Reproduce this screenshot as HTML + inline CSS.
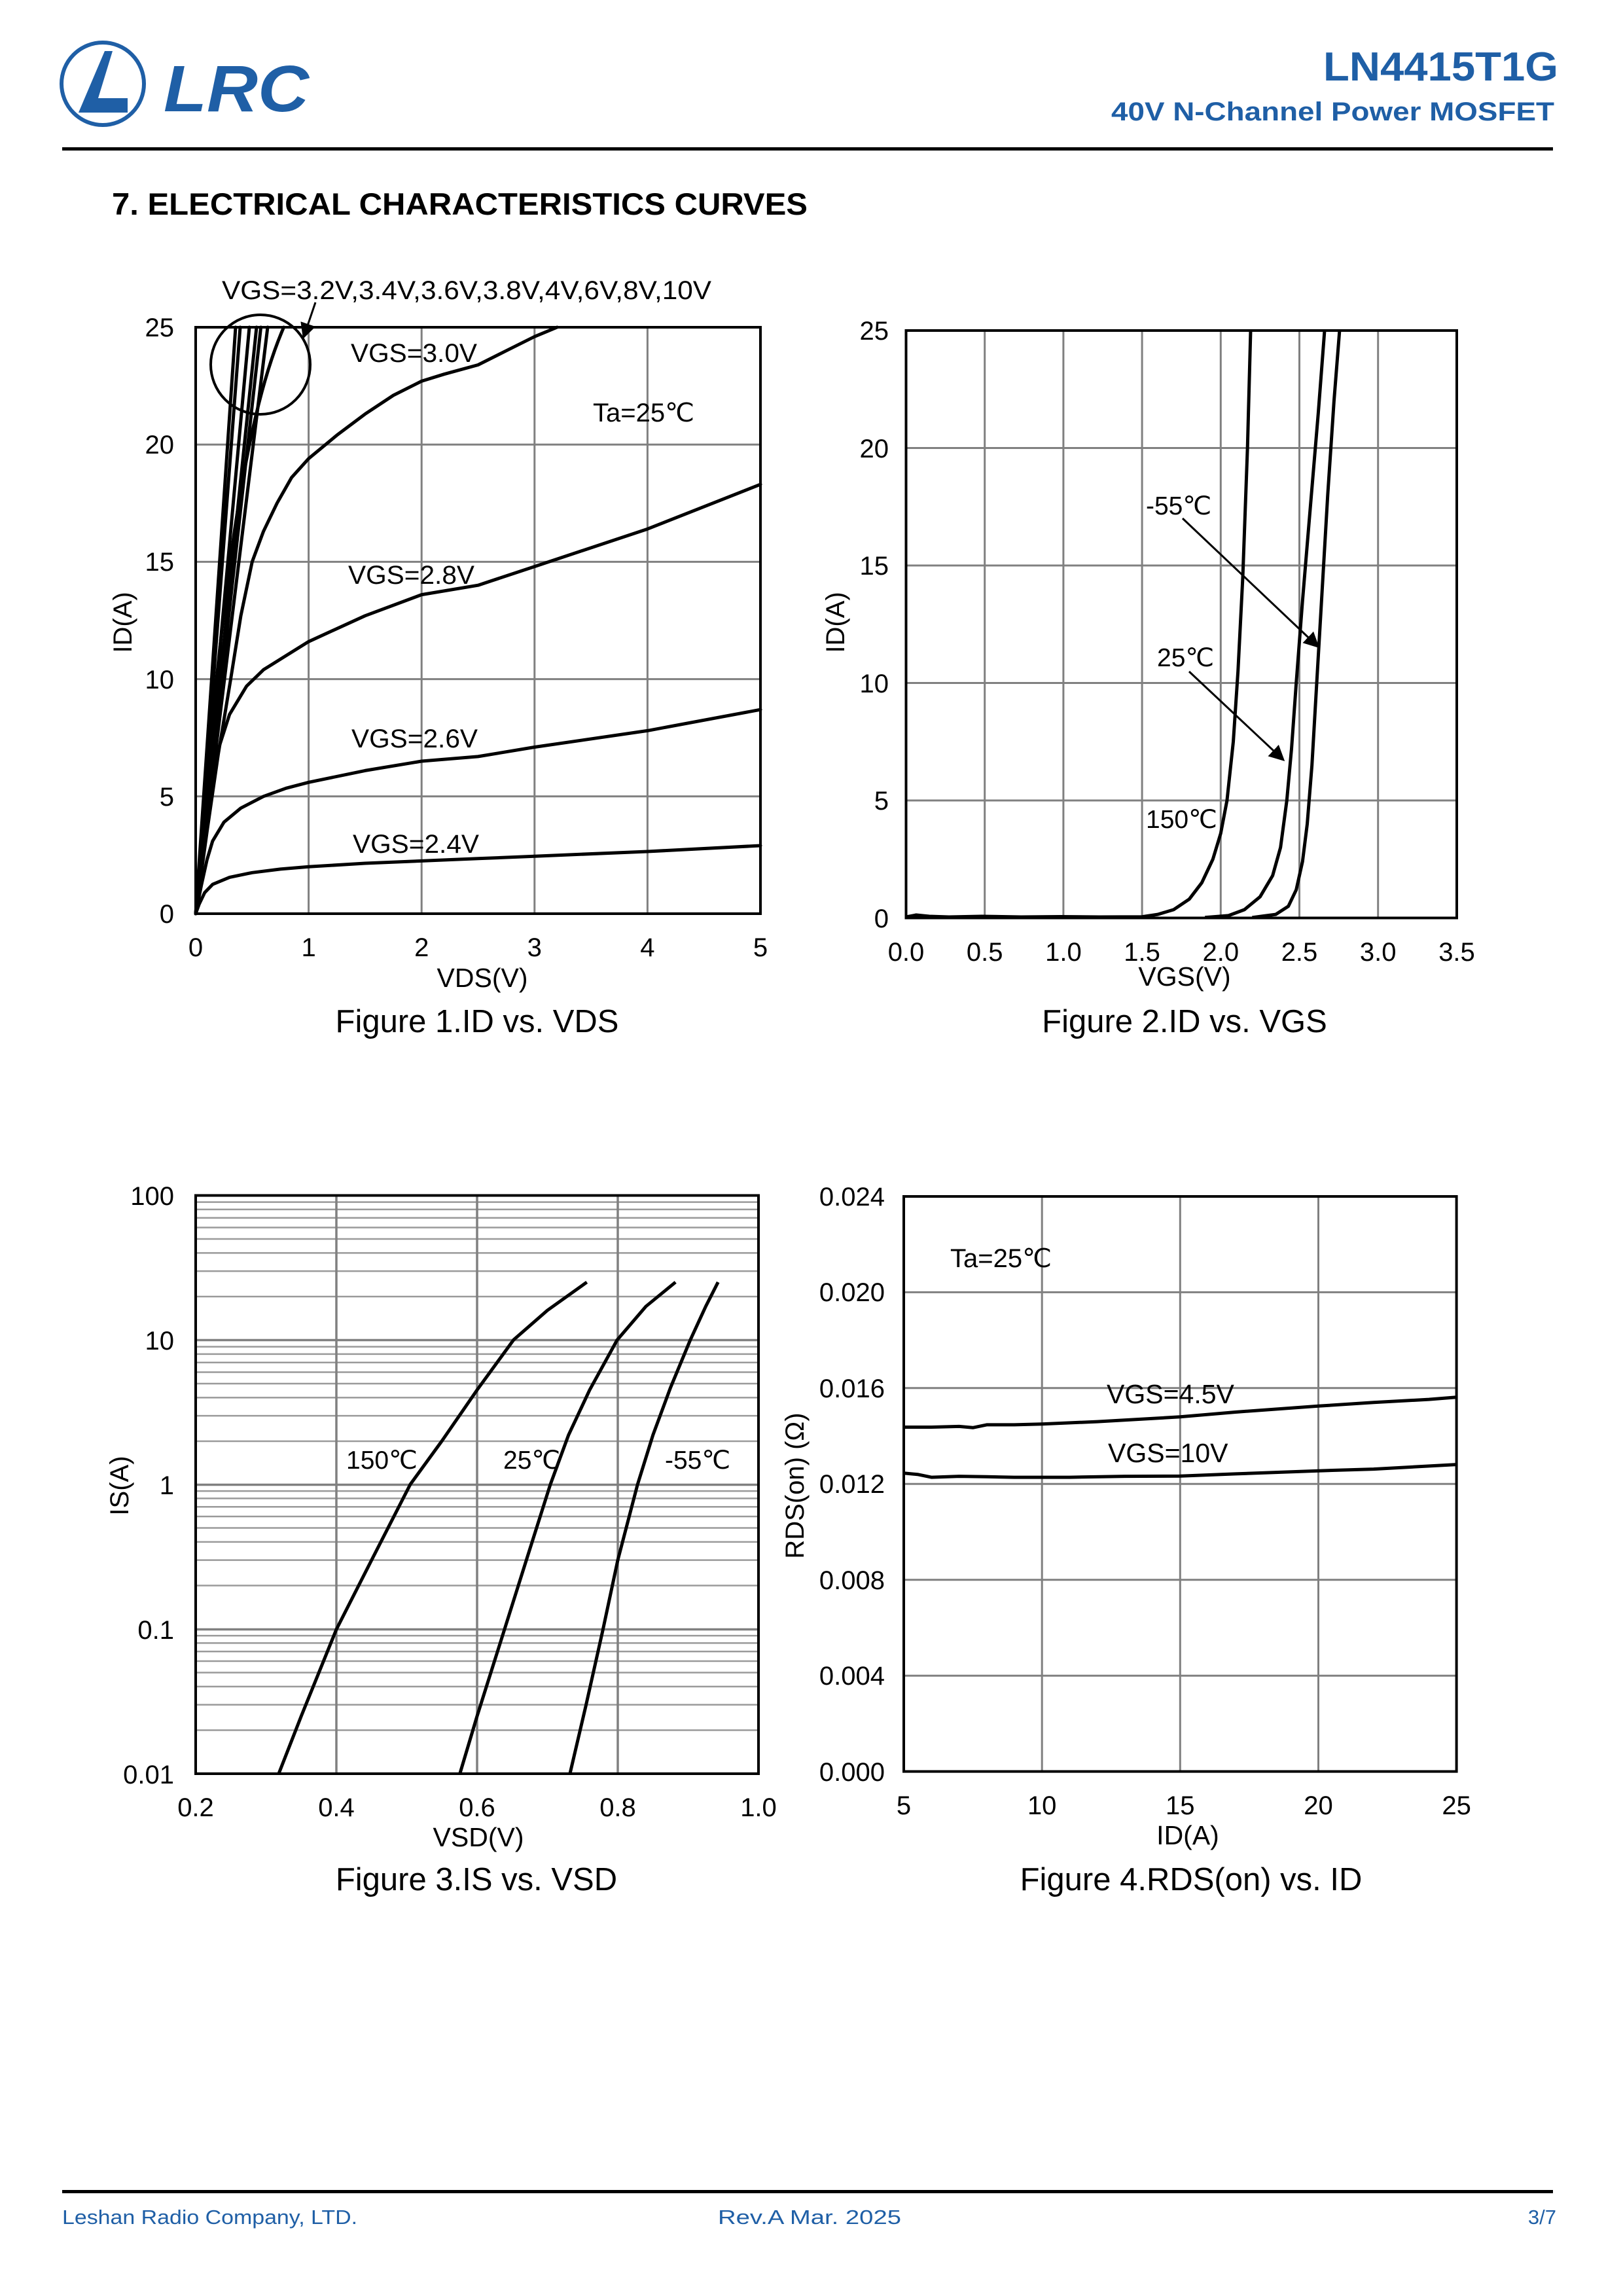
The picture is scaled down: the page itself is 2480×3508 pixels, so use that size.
<!DOCTYPE html>
<html><head><meta charset="utf-8"><style>
html,body{margin:0;padding:0;background:#fff;}
svg{display:block;}
text{font-family:"Liberation Sans",Arial,sans-serif;}
</style></head><body>
<svg xmlns="http://www.w3.org/2000/svg" width="2480" height="3508" viewBox="0 0 2480 3508">
<defs>
<marker id="ah" markerWidth="8" markerHeight="8" refX="7" refY="4" orient="auto" markerUnits="strokeWidth">
<path d="M0,0 L8,4 L0,8 z" fill="#000"/>
</marker>
<g id="minor" stroke="#9a9a9a" stroke-width="2.5">
<line x1="299" x2="1159" y1="-66.5" y2="-66.5"/><line x1="299" x2="1159" y1="-105.4" y2="-105.4"/>
<line x1="299" x2="1159" y1="-133.1" y2="-133.1"/><line x1="299" x2="1159" y1="-154.5" y2="-154.5"/>
<line x1="299" x2="1159" y1="-172" y2="-172"/><line x1="299" x2="1159" y1="-186.8" y2="-186.8"/>
<line x1="299" x2="1159" y1="-199.6" y2="-199.6"/><line x1="299" x2="1159" y1="-210.9" y2="-210.9"/>
</g>
</defs>
<rect width="2480" height="3508" fill="#fff"/>

<!-- Header -->
<circle cx="157" cy="128" r="63" fill="none" stroke="#1f5fa6" stroke-width="6"/>
<path d="M120,172 L160,78 L172,78 L150,150 L195,150 L195,172 Z" fill="#1f5fa6"/>
<path d="M150,150 L175,110 L195,150 Z" fill="#fff"/>
<text x="250" y="170" font-size="100" font-weight="bold" font-style="italic" fill="#1f5fa6" textLength="222" lengthAdjust="spacingAndGlyphs">LRC</text>
<text x="2381" y="123" font-size="62" font-weight="bold" fill="#1f5fa6" text-anchor="end" textLength="359" lengthAdjust="spacingAndGlyphs">LN4415T1G</text>
<text x="2375" y="184" font-size="40" font-weight="bold" fill="#1f5fa6" text-anchor="end" textLength="677" lengthAdjust="spacingAndGlyphs">40V N-Channel Power MOSFET</text>
<rect x="95" y="225" width="2278" height="5" fill="#000"/>
<text x="171" y="328" font-size="47" font-weight="bold" fill="#000" textLength="1063" lengthAdjust="spacingAndGlyphs">7. ELECTRICAL CHARACTERISTICS CURVES</text>

<!-- Chart 1 -->
<g stroke="#808080" stroke-width="3">
<line x1="471.6" x2="471.6" y1="500" y2="1396"/><line x1="644.2" x2="644.2" y1="500" y2="1396"/>
<line x1="816.8" x2="816.8" y1="500" y2="1396"/><line x1="989.4" x2="989.4" y1="500" y2="1396"/>
<line x1="299" x2="1162" y1="679.2" y2="679.2"/><line x1="299" x2="1162" y1="858.4" y2="858.4"/>
<line x1="299" x2="1162" y1="1037.6" y2="1037.6"/><line x1="299" x2="1162" y1="1216.8" y2="1216.8"/>
</g>
<rect x="299" y="500" width="863" height="896" fill="none" stroke="#000" stroke-width="4"/>
<g fill="none" stroke="#000" stroke-width="5" stroke-linejoin="round" stroke-linecap="round">
<path d="M299,1396 L360,500 M299,1396 L367,500 M299,1396 L381,500 M299,1396 L392,500 M299,1396 L398.6,500 M299,1396 L409,500"/>
<path d="M299,1396 Q330,1000 360,800 Q390,600 433.6,500"/>
<polyline points="299,1396 304.2,1381.7 312.8,1363.7 324.9,1351.2 350.8,1340.4 385.3,1333.3 428.5,1327.9 471.6,1324.3 557.9,1319 644.2,1315.4 730.5,1311.8 816.8,1308.2 989.4,1301 1162,1292"/>
<polyline points="299,1396 307.6,1353 316.3,1313.6 324.9,1284.9 342.2,1256.2 368,1234.7 402.6,1216.8 437.1,1204.3 471.6,1195.3 557.9,1177.4 644.2,1163 730.5,1155.9 816.8,1141.5 989.4,1116.4 1162,1084.2"/>
<polyline points="299,1396 307.6,1324.3 316.3,1252.6 324.9,1191.7 333.5,1145.1 350.8,1091.4 376.7,1048.4 402.6,1023.3 437.1,1001.8 471.6,980.3 557.9,940.8 644.2,908.6 730.5,894.2 816.8,865.6 989.4,808.2 1162,740.1"/>
<polyline points="299,1396 316.3,1270.6 333.5,1152.3 352.5,1037.6 368,940.8 385.3,858.4 402.6,811.8 423.3,768.8 445.7,729.4 471.6,700.7 514.8,664.9 557.9,632.6 601.1,604 644.2,582.4 678.7,571.7 730.5,557.5 773.7,535.8 816.8,514.3 851.3,500"/>
</g>
<circle cx="398" cy="557" r="76" fill="none" stroke="#000" stroke-width="4"/>
<line x1="482" y1="462" x2="464" y2="515" stroke="#000" stroke-width="3" marker-end="url(#ah)"/>
<g font-size="40" fill="#000">
<text x="339" y="457" textLength="748" lengthAdjust="spacingAndGlyphs">VGS=3.2V,3.4V,3.6V,3.8V,4V,6V,8V,10V</text>
<text x="536" y="553" textLength="193" lengthAdjust="spacingAndGlyphs">VGS=3.0V</text>
<text x="906" y="644">Ta=25℃</text>
<text x="532" y="892" textLength="193" lengthAdjust="spacingAndGlyphs">VGS=2.8V</text>
<text x="537" y="1142" textLength="193" lengthAdjust="spacingAndGlyphs">VGS=2.6V</text>
<text x="539" y="1303" textLength="193" lengthAdjust="spacingAndGlyphs">VGS=2.4V</text>
</g>
<g font-size="40" fill="#000" text-anchor="end">
<text x="266" y="514">25</text><text x="266" y="693">20</text><text x="266" y="872">15</text>
<text x="266" y="1052">10</text><text x="266" y="1231">5</text><text x="266" y="1410">0</text>
</g>
<g font-size="40" fill="#000" text-anchor="middle">
<text x="299" y="1461">0</text><text x="471.6" y="1461">1</text><text x="644.2" y="1461">2</text>
<text x="816.8" y="1461">3</text><text x="989.4" y="1461">4</text><text x="1162" y="1461">5</text>
<text x="737" y="1508" font-size="41">VDS(V)</text>
<text x="729" y="1577" font-size="49">Figure 1.ID vs. VDS</text>
<text transform="translate(201,951) rotate(-90)">ID(A)</text>
</g>

<!-- Chart 2 -->
<g stroke="#808080" stroke-width="3">
<line x1="1504.7" x2="1504.7" y1="505" y2="1402.5"/><line x1="1624.9" x2="1624.9" y1="505" y2="1402.5"/>
<line x1="1745.1" x2="1745.1" y1="505" y2="1402.5"/><line x1="1865.3" x2="1865.3" y1="505" y2="1402.5"/>
<line x1="1985.5" x2="1985.5" y1="505" y2="1402.5"/><line x1="2105.7" x2="2105.7" y1="505" y2="1402.5"/>
<line x1="1384.5" x2="2226" y1="684.5" y2="684.5"/><line x1="1384.5" x2="2226" y1="864" y2="864"/>
<line x1="1384.5" x2="2226" y1="1043.5" y2="1043.5"/><line x1="1384.5" x2="2226" y1="1223" y2="1223"/>
</g>
<rect x="1384.5" y="505" width="841.5" height="897.5" fill="none" stroke="#000" stroke-width="4"/>
<g fill="none" stroke="#000" stroke-width="5" stroke-linejoin="round">
<polyline points="1384.5,1401 1400,1398 1420,1400 1450,1401 1500,1400 1560,1401 1620,1400.5 1680,1401 1745.1,1400.7 1769.1,1397.1 1793.2,1389.9 1817.2,1373.8 1836.4,1348.7 1853.3,1312.8 1865.3,1273.3 1874.9,1223 1884.5,1133.3 1891.7,1025.5 1899,882 1906.2,684.5 1911,505"/>
<polyline points="1841.3,1401.8 1877.3,1398.9 1901.4,1389.9 1925.4,1370.2 1944.6,1337.9 1956.7,1294.8 1966.3,1223 1973.5,1144 1980.7,1043.5 1990.3,917.9 2002.3,774.3 2014.4,630.7 2024,505"/>
<polyline points="1913.4,1401.8 1949.4,1397.1 1968.7,1384.6 1980.7,1359.4 1990.3,1316.3 1997.5,1258.9 2004.7,1169.2 2012,1043.5 2020.4,899.9 2028.8,756.3 2038.4,612.7 2046.9,505"/>
</g>
<line x1="1807" y1="792" x2="2014" y2="988" stroke="#000" stroke-width="3" marker-end="url(#ah)"/>
<line x1="1817" y1="1026" x2="1961" y2="1161" stroke="#000" stroke-width="3" marker-end="url(#ah)"/>
<g font-size="39" fill="#000">
<text x="1751" y="786">-55℃</text>
<text x="1768" y="1018">25℃</text>
<text x="1751" y="1265">150℃</text>
</g>
<g font-size="40" fill="#000" text-anchor="end">
<text x="1358" y="519">25</text><text x="1358" y="699">20</text><text x="1358" y="878">15</text>
<text x="1358" y="1058">10</text><text x="1358" y="1237">5</text><text x="1358" y="1417">0</text>
</g>
<g font-size="40" fill="#000" text-anchor="middle">
<text x="1384.5" y="1468">0.0</text><text x="1504.7" y="1468">0.5</text><text x="1624.9" y="1468">1.0</text>
<text x="1745.1" y="1468">1.5</text><text x="1865.3" y="1468">2.0</text><text x="1985.5" y="1468">2.5</text>
<text x="2105.7" y="1468">3.0</text><text x="2226" y="1468">3.5</text>
<text x="1810" y="1506" font-size="41">VGS(V)</text>
<text x="1810" y="1577" font-size="49">Figure 2.ID vs. VGS</text>
<text transform="translate(1290,951) rotate(-90)">ID(A)</text>
</g>

<!-- Chart 3 -->
<use href="#minor" y="2710"/><use href="#minor" y="2489"/><use href="#minor" y="2268.5"/><use href="#minor" y="2047.5"/>
<g stroke="#808080" stroke-width="3.5">
<line x1="514" x2="514" y1="1826.5" y2="2710"/><line x1="729" x2="729" y1="1826.5" y2="2710"/>
<line x1="944" x2="944" y1="1826.5" y2="2710"/>
<line x1="299" x2="1159" y1="2047.5" y2="2047.5"/><line x1="299" x2="1159" y1="2268.5" y2="2268.5"/>
<line x1="299" x2="1159" y1="2489.5" y2="2489.5"/>
</g>
<rect x="299" y="1826.5" width="860" height="883.5" fill="none" stroke="#000" stroke-width="4"/>
<g fill="none" stroke="#000" stroke-width="5" stroke-linejoin="round">
<path d="M425.9,2710 L460.3,2622 L514,2489.5 L567.8,2383.6 L626.9,2268 L675.3,2201.5 L729,2123.7 L784.9,2047 L836.5,2002 L896.7,1959"/>
<path d="M702.7,2710 L729,2622 L770.9,2489.5 L804.3,2383.6 L840.8,2268.5 L868.8,2192.4 L901,2123.7 L942.9,2047.5 L987,1996 L1032.2,1959"/>
<path d="M870.9,2710 L895.6,2604.6 L921.4,2489.5 L944,2383.6 L974.1,2268.5 L997.8,2192.4 L1024.6,2120 L1054.7,2047.5 L1078.4,1996 L1097.2,1959"/>
</g>
<g font-size="39" fill="#000">
<text x="529" y="2244">150℃</text>
<text x="769" y="2244">25℃</text>
<text x="1016" y="2244">-55℃</text>
</g>
<g font-size="40" fill="#000" text-anchor="end">
<text x="266" y="1841">100</text><text x="266" y="2062">10</text><text x="266" y="2283">1</text>
<text x="266" y="2504">0.1</text><text x="266" y="2725">0.01</text>
</g>
<g font-size="40" fill="#000" text-anchor="middle">
<text x="299" y="2775">0.2</text><text x="514" y="2775">0.4</text><text x="729" y="2775">0.6</text>
<text x="944" y="2775">0.8</text><text x="1159" y="2775">1.0</text>
<text x="731" y="2821" font-size="41">VSD(V)</text>
<text x="728" y="2888" font-size="49">Figure 3.IS vs. VSD</text>
<text transform="translate(196,2270) rotate(-90)">IS(A)</text>
</g>

<!-- Chart 4 -->
<g stroke="#808080" stroke-width="3">
<line x1="1592.2" x2="1592.2" y1="1828" y2="2706.6"/><line x1="1803.3" x2="1803.3" y1="1828" y2="2706.6"/>
<line x1="2014.5" x2="2014.5" y1="1828" y2="2706.6"/>
<line x1="1381" x2="2225.6" y1="1974.4" y2="1974.4"/><line x1="1381" x2="2225.6" y1="2120.8" y2="2120.8"/>
<line x1="1381" x2="2225.6" y1="2267.3" y2="2267.3"/><line x1="1381" x2="2225.6" y1="2413.7" y2="2413.7"/>
<line x1="1381" x2="2225.6" y1="2560.2" y2="2560.2"/>
</g>
<rect x="1381" y="1828" width="844.6" height="878.6" fill="none" stroke="#000" stroke-width="4"/>
<g fill="none" stroke="#000" stroke-width="5" stroke-linejoin="round">
<path d="M1381,2180.5 L1423.2,2180.5 L1465.5,2179.4 L1486.6,2181.3 L1507.7,2176.9 L1549.9,2176.9 L1592.2,2175.8 L1676.6,2172.1 L1803.3,2164.8 L1887.8,2157.5 L2014.5,2148.3 L2098.9,2142.8 L2183.4,2138.1 L2225.6,2134.8"/>
<path d="M1381,2250.8 L1402.1,2252.7 L1423.2,2257.1 L1465.5,2255.6 L1507.7,2256.3 L1549.9,2257.1 L1634.4,2257.1 L1718.8,2255.6 L1803.3,2255.2 L1887.8,2251.9 L2014.5,2247.2 L2098.9,2244.6 L2225.6,2237.6"/>
</g>
<g font-size="40" fill="#000">
<text x="1452" y="1936">Ta=25℃</text>
<text x="1691" y="2144" font-size="41">VGS=4.5V</text>
<text x="1693" y="2234" font-size="41">VGS=10V</text>
</g>
<g font-size="40" fill="#000" text-anchor="end">
<text x="1352" y="1842">0.024</text><text x="1352" y="1988">0.020</text><text x="1352" y="2135">0.016</text>
<text x="1352" y="2281">0.012</text><text x="1352" y="2428">0.008</text><text x="1352" y="2574">0.004</text>
<text x="1352" y="2721">0.000</text>
</g>
<g font-size="40" fill="#000" text-anchor="middle">
<text x="1381" y="2772">5</text><text x="1592.2" y="2772">10</text><text x="1803.3" y="2772">15</text>
<text x="2014.5" y="2772">20</text><text x="2225.6" y="2772">25</text>
<text x="1815" y="2818" font-size="41">ID(A)</text>
<text x="1820" y="2888" font-size="49">Figure 4.RDS(on) vs. ID</text>
<text transform="translate(1228,2270) rotate(-90)">RDS(on) (Ω)</text>
</g>

<!-- Footer -->
<rect x="95" y="3346" width="2278" height="5" fill="#000"/>
<g font-size="31" fill="#1f5fa6">
<text x="95" y="3398" textLength="451" lengthAdjust="spacingAndGlyphs">Leshan Radio Company, LTD.</text>
<text x="1097" y="3398" textLength="280" lengthAdjust="spacingAndGlyphs">Rev.A  Mar.  2025</text>
<text x="2378" y="3398" text-anchor="end">3/7</text>
</g>
</svg>
</body></html>
